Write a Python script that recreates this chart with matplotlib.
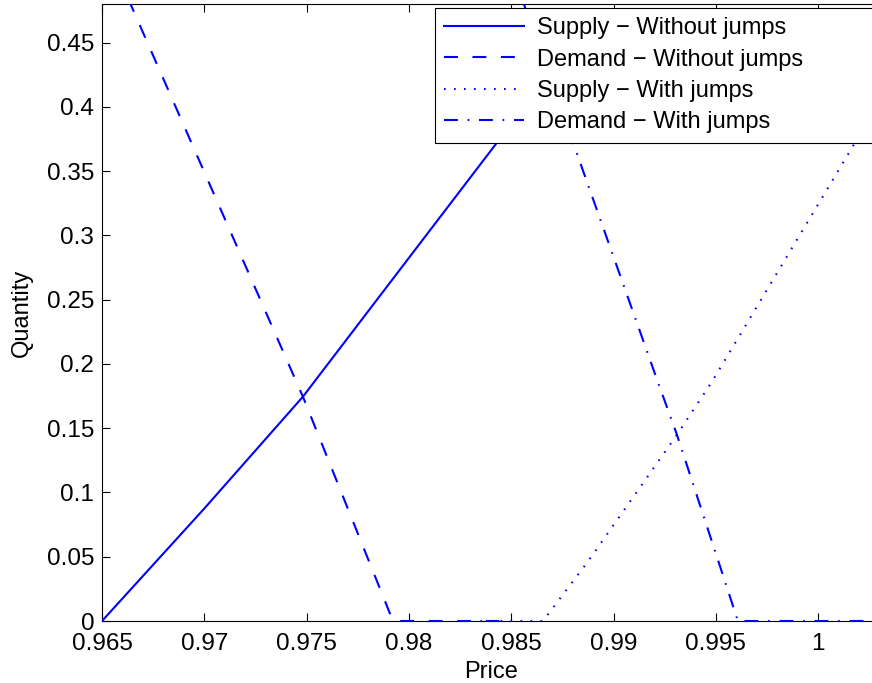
import numpy as np
import matplotlib
matplotlib.use("Agg")
import matplotlib.pyplot as plt
from matplotlib.transforms import Bbox, TransformedBbox
from matplotlib.ticker import FixedLocator, FuncFormatter

plt.rcParams["font.family"] = ["Liberation Sans", "DejaVu Sans"]
plt.rcParams["font.size"] = 17
plt.rcParams["lines.scale_dashes"] = False

# supply / demand curves, without and with jumps
price_supply_nj = [0.965, 0.970, 0.97482, 0.980, 0.98431, 0.985]
qty_supply_nj = [0.0, 0.0875, 0.1745, 0.2825, 0.3723, 0.386]

price_demand_nj = [0.965, 0.96642, 0.97482, 0.97922, 0.985]
qty_demand_nj = [0.530, 0.479, 0.1745, 0.0, 0.0]

price_supply_wj = [0.9835, 0.98655, 0.98870, 0.99159, 0.99310, 0.99481, 1.00175, 1.003]
qty_supply_wj = [0.0, 0.0, 0.0452, 0.1106, 0.1449, 0.1861, 0.3707, 0.405]

price_demand_wj = [0.9835, 0.98802, 0.99218, 0.99310, 0.99608, 1.003]
qty_demand_wj = [0.575, 0.3723, 0.1854, 0.1449, 0.0, 0.0]

labels = ["Supply \u2212 Without jumps", "Demand \u2212 Without jumps",
          "Supply \u2212 With jumps", "Demand \u2212 With jumps"]

xticks = [0.965, 0.97, 0.975, 0.98, 0.985, 0.99, 0.995, 1.0]
yticks = [0, 0.05, 0.1, 0.15, 0.2, 0.25, 0.3, 0.35, 0.4, 0.45]

W, H = 872, 683
fig = plt.figure(figsize=(W / 100, H / 100), dpi=100)
ax = fig.add_axes([102 / W, 62 / H, 777.5 / W, 617 / H])

blue = "#0000ff"
lw = 1.5
l1, = ax.plot(price_supply_nj, qty_supply_nj, color=blue, lw=lw, ls="-")
l2, = ax.plot(price_demand_nj, qty_demand_nj, color=blue, lw=lw, ls=(0, (10, 10.5)))
l3, = ax.plot(price_supply_wj, qty_supply_wj, color=blue, lw=lw, ls=(0, (1.2, 6)))
l4, = ax.plot(price_demand_wj, qty_demand_wj, color=blue, lw=lw, ls=(0, (10, 7, 1.2, 7)))

# let the curves sitting on zero show full width over the axis line
clip = TransformedBbox(Bbox([[0, -0.01], [1, 1]]), ax.transAxes)
for ln in (l1, l2, l3, l4):
    ln.set_clip_box(clip)
    ln.set_zorder(3)

ax.set_xlim(0.965, 1.003)
ax.set_ylim(0, 0.48)
ax.xaxis.set_major_locator(FixedLocator(xticks))
ax.yaxis.set_major_locator(FixedLocator(yticks))
fmt = FuncFormatter(lambda v, p: "%g" % round(v, 6))
ax.xaxis.set_major_formatter(fmt)
ax.yaxis.set_major_formatter(fmt)
ax.tick_params(direction="in", length=6, width=0.8, top=True, right=True,
               labelsize=17.5, color="black")
ax.tick_params(axis="x", pad=9)
ax.tick_params(axis="y", pad=5.5)
for sp in ax.spines.values():
    sp.set_linewidth(0.8)

ax.set_xlabel("Price", labelpad=4)
ax.set_ylabel("Quantity", labelpad=10)

leg = ax.legend([l1, l2, l3, l4], labels, loc="upper left", mode="expand",
                bbox_to_anchor=(435 / W, 0, 440 / W, 1 - 8 / H),
                bbox_transform=fig.transFigure, borderaxespad=0,
                fancybox=False, framealpha=1, edgecolor="black",
                handlelength=3.35, handletextpad=0.55, borderpad=0.4,
                labelspacing=0.39, fontsize=17)
leg.get_frame().set_linewidth(0.8)
leg.set_zorder(5)

fig.savefig("out.png", dpi=100)
